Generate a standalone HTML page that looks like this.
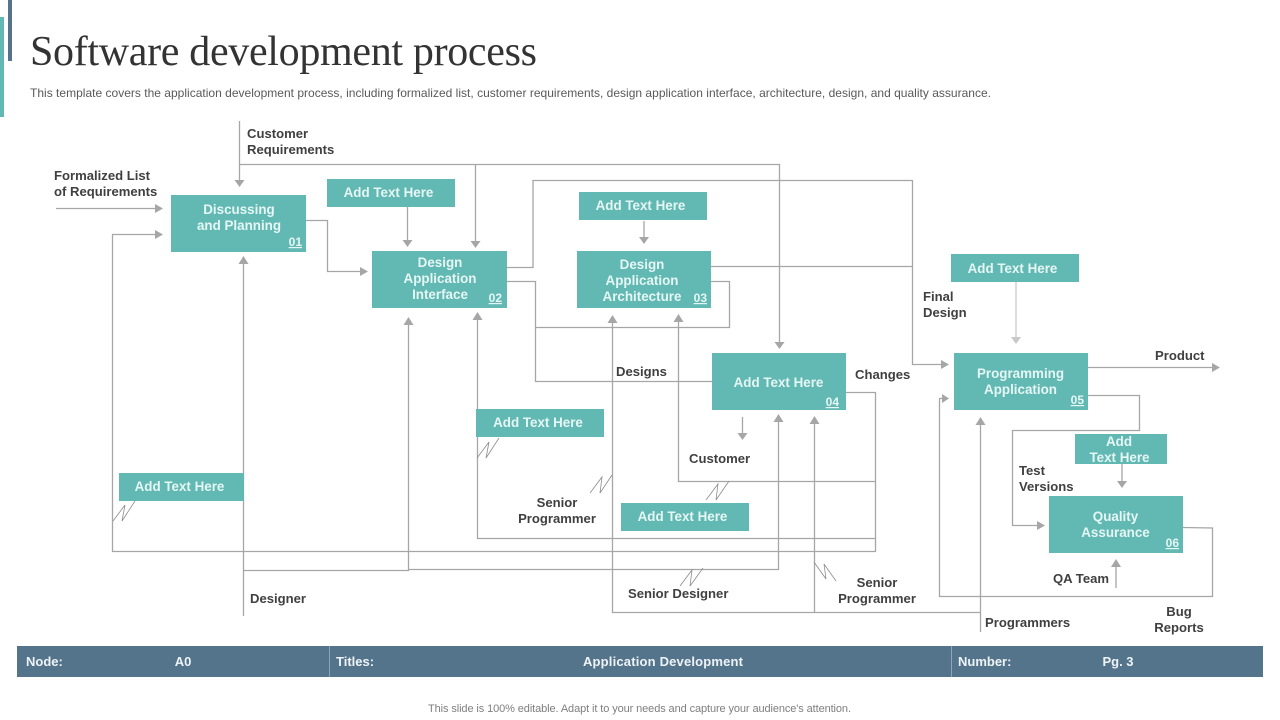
<!DOCTYPE html>
<html><head><meta charset="utf-8"><style>
html,body{margin:0;padding:0;background:#fff;width:1280px;height:720px;overflow:hidden}
svg{display:block}
text{font-family:"Liberation Sans",Arial,sans-serif}
.l{font-size:13.1px;font-weight:bold;fill:#404040}
.w{font-size:13.4px;font-weight:bold;fill:#e6f6f4;text-anchor:middle}
.n{font-size:12px;font-weight:bold;fill:#e6f6f4;text-decoration:underline;text-anchor:end}
.f{font-size:13px;font-weight:bold;fill:#eef3f6}
.c{fill:none;stroke:#a6a6a6;stroke-width:1.3}
.z{fill:none;stroke:#8c8c8c;stroke-width:.8}
.b{fill:#62b9b4}
.h{fill:#a6a6a6}
</style></head><body>
<svg width="1280" height="720" viewBox="0 0 1280 720" xmlns="http://www.w3.org/2000/svg">
<rect x="0" y="17" width="4" height="100" fill="#62b9b4"/>
<rect x="8" y="0" width="4" height="61" fill="#54748c"/>
<text x="30" y="65" style="font-family:'Liberation Serif',serif;font-size:42px;fill:#333" textLength="507" lengthAdjust="spacing">Software development process</text>
<text x="30" y="97" style="font-size:12px;fill:#595959" textLength="961" lengthAdjust="spacing">This template covers the application development process, including formalized list, customer requirements, design application interface, architecture, design, and quality assurance.</text>

<g class="c">
<path d="M239.5 121V180"/>
<path d="M239.5 164.5H779.5V342"/>
<path d="M475.5 164.5V241"/>
<path d="M56 208.5H155"/>
<path d="M155 234.5H112.5V551.5H875.5V392.5H846"/>
<path d="M306 220.5H327.5V271.5H360"/>
<path d="M407.5 207V240"/>
<path d="M507 267.5H533V180.5H912.5V364.5H941"/>
<path d="M711 266.5H912"/>
<path d="M507 281.5H535.5V381.5H712"/>
<path d="M535.5 327.5H729.5V281.5H711"/>
<path d="M243.5 616V264"/>
<path d="M243.5 570.5H408.5V325"/>
<path d="M408.5 569.5H778.5V422"/>
<path d="M477.5 320V538.5H875.5"/>
<path d="M612.5 323V612.5H980"/>
<path d="M814.5 612V424"/>
<path d="M678.5 322V481.5H875.5"/>
<path d="M742.5 417V433"/>
<path d="M980.5 632V425"/>
<path d="M1183 527.5L1212.5 528V596.5H939.5V398.5H942"/>
<path d="M1088 367.5H1212"/>
<path d="M1088 395.5H1139.5V430.5H1012.5V525.5H1037"/>
<path d="M1122 464V481"/>
<path d="M1116 588V567"/>
<path d="M644 221V237"/>
<path d="M1016 282V337" style="stroke:#c8c8c8"/>
</g>
<g class="h">
<path d="M234.500 180h10l-5 7z"/>
<path d="M774.500 342h10l-5 7z"/>
<path d="M470.500 241h10l-5 7z"/>
<path d="M155 204l8 4.500-8 4.500z"/>
<path d="M155 230l8 4.500-8 4.500z"/>
<path d="M360 267l8 4.500-8 4.500z"/>
<path d="M402.500 240h10l-5 7z"/>
<path d="M941 360l8 4.500-8 4.500z"/>
<path d="M238.500 264h10l-5-8z"/>
<path d="M403.500 325h10l-5-8z"/>
<path d="M773.500 422h10l-5-8z"/>
<path d="M472.500 320h10l-5-8z"/>
<path d="M607.500 323h10l-5-8z"/>
<path d="M809.500 424h10l-5-8z"/>
<path d="M673.500 322h10l-5-8z"/>
<path d="M737.500 433h10l-5 7z"/>
<path d="M975.500 425h10l-5-8z"/>
<path d="M942 394l7 4.500-7 4.500z"/>
<path d="M1212 363l8 4.500-8 4.500z"/>
<path d="M1037 521l8 4.500-8 4.500z"/>
<path d="M1117 481h10l-5 7z"/>
<path d="M1111 567h10l-5-8z"/>
<path d="M639 237h10l-5 7z"/>
<path d="M1011 337h10l-5 7z" style="fill:#c8c8c8"/>
</g>
<g class="z">
<path d="M113 521L125 505L122 521L135 501"/>
<path d="M477 458L489 442L486 458L499 438"/>
<path d="M590 493L602 477L600 493L612 475"/>
<path d="M706 500L718 484L716 500L729 481"/>
<path d="M680 586L692 570L690 586L703 568"/>
<path d="M814 562L826 579L824 564L836 581"/>
</g>

<g class="b">
<rect x="171" y="195" width="135" height="57"/>
<rect x="372" y="251" width="135" height="57"/>
<rect x="577" y="251" width="134" height="57"/>
<rect x="712" y="353" width="134" height="57"/>
<rect x="954" y="353" width="134" height="57"/>
<rect x="1049" y="496" width="134" height="57"/>
<rect x="327" y="179" width="128" height="28"/>
<rect x="579" y="192" width="128" height="28"/>
<rect x="951" y="254" width="128" height="28"/>
<rect x="476" y="409" width="128" height="28"/>
<rect x="621" y="503" width="128" height="28"/>
<rect x="119" y="473" width="125" height="28"/>
<rect x="1075" y="434" width="92" height="30"/>
</g>

<text class="w" x="239" y="214">Discussing</text>
<text class="w" x="239" y="230">and Planning</text>
<text class="n" x="302" y="246">01</text>
<text class="w" x="440" y="267">Design</text>
<text class="w" x="440" y="283">Application</text>
<text class="w" x="440" y="299">Interface</text>
<text class="n" x="502" y="302">02</text>
<text class="w" x="642" y="269">Design</text>
<text class="w" x="642" y="285">Application</text>
<text class="w" x="642" y="301">Architecture</text>
<text class="n" x="707" y="302">03</text>
<text class="w" x="778.5" y="387">Add Text Here</text>
<text class="n" x="839" y="406">04</text>
<text class="w" x="1020.5" y="378">Programming</text>
<text class="w" x="1020.5" y="394">Application</text>
<text class="n" x="1084" y="404">05</text>
<text class="w" x="1115.5" y="521">Quality</text>
<text class="w" x="1115.5" y="537">Assurance</text>
<text class="n" x="1179" y="547">06</text>
<text class="w" x="388.5" y="197">Add Text Here</text>
<text class="w" x="640.5" y="210">Add Text Here</text>
<text class="w" x="1012.5" y="273">Add Text Here</text>
<text class="w" x="538" y="427">Add Text Here</text>
<text class="w" x="682.5" y="521">Add Text Here</text>
<text class="w" x="179.500" y="491">Add Text Here</text>
<text class="w" x="1119" y="446">Add</text>
<text class="w" x="1119.5" y="462">Text Here</text>

<text class="l" x="247" y="138">Customer</text>
<text class="l" x="247" y="154">Requirements</text>
<text class="l" x="54" y="180">Formalized List</text>
<text class="l" x="54" y="196">of Requirements</text>
<text class="l" x="616" y="376">Designs</text>
<text class="l" x="855" y="379">Changes</text>
<text class="l" x="923" y="301">Final</text>
<text class="l" x="923" y="317">Design</text>
<text class="l" x="1155" y="360">Product</text>
<text class="l" x="689" y="463">Customer</text>
<text class="l" x="1019" y="475">Test</text>
<text class="l" x="1019" y="491">Versions</text>
<text class="l" x="557" y="507" text-anchor="middle">Senior</text>
<text class="l" x="557" y="523" text-anchor="middle">Programmer</text>
<text class="l" x="628" y="598">Senior Designer</text>
<text class="l" x="877" y="587" text-anchor="middle">Senior</text>
<text class="l" x="877" y="603" text-anchor="middle">Programmer</text>
<text class="l" x="250" y="603">Designer</text>
<text class="l" x="1053" y="583">QA Team</text>
<text class="l" x="985" y="627">Programmers</text>
<text class="l" x="1179" y="616" text-anchor="middle">Bug</text>
<text class="l" x="1179" y="632" text-anchor="middle">Reports</text>

<rect x="17" y="646" width="1246" height="31" fill="#54748c"/>
<path d="M329.500 646V677M951.500 646V677" stroke="#8ea4b5" stroke-width="1"/>
<text class="f" x="26" y="666">Node:</text>
<text class="f" x="183" y="666" text-anchor="middle">A0</text>
<text class="f" x="336" y="666">Titles:</text>
<text class="f" x="583" y="666" textLength="160" lengthAdjust="spacing">Application Development</text>
<text class="f" x="958" y="666">Number:</text>
<text class="f" x="1118" y="666" text-anchor="middle">Pg. 3</text>
<text x="428" y="712" style="font-size:11px;fill:#7f7f7f" textLength="423" lengthAdjust="spacing">This slide is 100% editable. Adapt it to your needs and capture your audience's attention.</text>
</svg>
</body></html>
